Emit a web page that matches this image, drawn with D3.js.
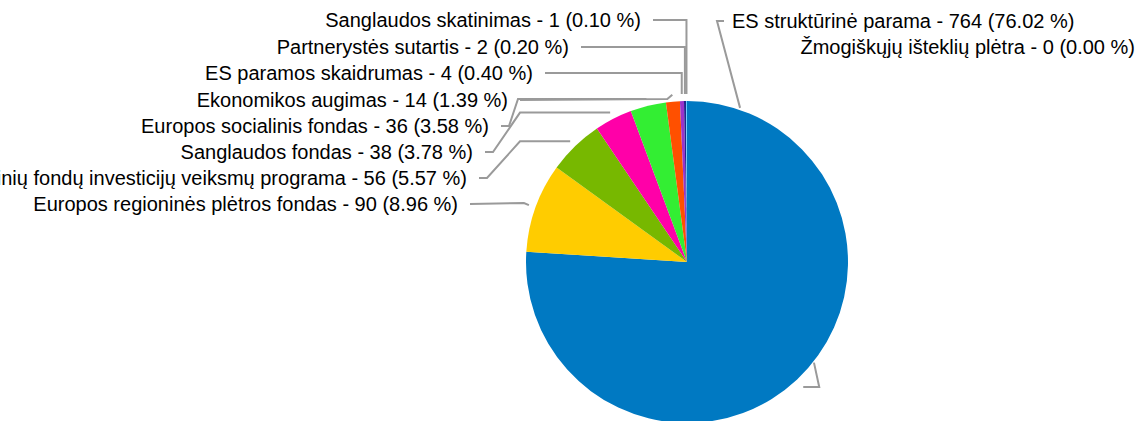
<!DOCTYPE html>
<html>
<head>
<meta charset="utf-8">
<script src="https://cdn.jsdelivr.net/npm/d3@7"></script>
<style>
  body { margin: 0; background: #fff; overflow: hidden; }
  svg { display: block; }
  text { font-family: "Liberation Sans", Arial, sans-serif; fill: #000; }
</style>
</head>
<body>
<svg></svg>
<script>
var categories = [
    "ES struktūrinė parama",
    "Europos regioninės plėtros fondas",
    "Europos Sąjungos struktūrinių fondų investicijų veiksmų programa",
    "Sanglaudos fondas",
    "Europos socialinis fondas",
    "Ekonomikos augimas",
    "ES paramos skaidrumas",
    "Partnerystės sutartis",
    "Sanglaudos skatinimas",
    "Žmogiškųjų išteklių plėtra"
];
var values = [764, 90, 56, 38, 36, 14, 4, 2, 1, 0];
var colors = ["#0079c2", "#ffcc00", "#77b800", "#ff00a8", "#33ee33", "#ff5000", "#9933cc", "#23238c", "#66ccff", "#999999"];

// where each label sits (text edge x, middle y) and how its leader bends
var labelSpots = [
    {x: 732, y: 21, anchor: "start", kind: "blue"},
    {x: 458, y: 204, anchor: "end", kind: "flat"},
    {x: 467, y: 178, anchor: "end", kind: "diag", bend: 520},
    {x: 473, y: 152, anchor: "end", kind: "diag", bend: 520},
    {x: 489, y: 126, anchor: "end", kind: "diag", bend: 518},
    {x: 508, y: 100, anchor: "end", kind: "flat"},
    {x: 533, y: 73, anchor: "end", kind: "elbow"},
    {x: 569, y: 47, anchor: "end", kind: "elbow"},
    {x: 641, y: 20, anchor: "end", kind: "elbow"},
    {x: 1135, y: 47, anchor: "end", kind: "none"}
];

var width = 1138, height = 421;
var cx = 687, cy = 262, r = 161;

var svg = d3.select("svg")
    .attr("width", width)
    .attr("height", height);

var total = d3.sum(values);
var data = categories.map(function(c, i) {
    return {name: c, value: values[i], color: colors[i], spot: labelSpots[i]};
});

var pie = d3.pie().sort(null).value(function(d) { return d.value; });
var arcs = pie(data);

var arc = d3.arc().innerRadius(0).outerRadius(r);
var tipArc = d3.arc().innerRadius(r + 7).outerRadius(r + 7);

var g = svg.append("g").attr("transform", "translate(" + cx + "," + cy + ")");

g.selectAll("path.slice")
    .data(arcs)
    .enter()
    .append("path")
    .attr("class", "slice")
    .attr("d", arc)
    .style("fill", function(d) { return d.data.color; });

// point on the circle, angle in degrees clockwise from top
function polar(deg, rad) {
    var a = deg * Math.PI / 180;
    return [cx + rad * Math.sin(a), cy - rad * Math.cos(a)];
}

var line = d3.line();
var leaders = [];

arcs.forEach(function(d) {
    var s = d.data.spot;
    var c = tipArc.centroid(d);
    var E = [cx + c[0], cy + c[1]];
    var L = [s.x + 12, s.y];
    if (s.kind == "elbow") {
        leaders.push([L, [E[0], s.y], E]);
    } else if (s.kind == "diag") {
        leaders.push([L, [L[0] + 8, s.y], [s.bend, E[1]], E]);
    } else if (s.kind == "flat") {
        leaders.push([L, [E[0] - 5, s.y - 1], E]);
    } else if (s.kind == "blue") {
        leaders.push([[s.x - 8, s.y], [s.x - 15, s.y], polar(19, r + 2)]);
        // odd little hook below the blue slice
        var p = polar(133.4, r + 21);
        leaders.push([polar(128.4, r + 1), p, [p[0] - 16, p[1]]]);
    }
});

svg.append("g")
    .selectAll("path")
    .data(leaders)
    .enter()
    .append("path")
    .attr("d", function(d) { return line(d); })
    .style("fill", "none")
    .style("stroke", "#9a9a9a")
    .style("stroke-width", 2);

svg.append("g")
    .selectAll("text")
    .data(data)
    .enter()
    .append("text")
    .attr("x", function(d) { return d.spot.x; })
    .attr("y", function(d) { return d.spot.y; })
    .attr("dy", "0.35em")
    .attr("text-anchor", function(d) { return d.spot.anchor; })
    .style("font-size", "20px")
    .text(function(d) {
        return d.name + " - " + d.value + " (" + (d.value / total * 100).toFixed(2) + " %)";
    });
</script>
</body>
</html>
